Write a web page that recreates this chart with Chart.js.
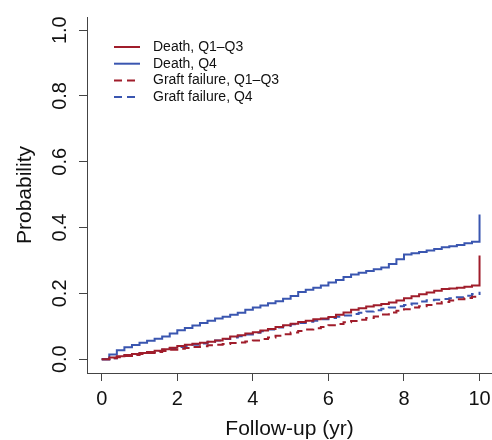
<!DOCTYPE html>
<html lang="en">
<head>
<meta charset="UTF-8">
<title>Cumulative incidence</title>
<style>
  body { margin: 0; background: #fff; }
</style>
</head>
<body>
<canvas id="chart" width="492" height="440"></canvas>
<script src="https://cdn.jsdelivr.net/npm/chart.js@4.4.1/dist/chart.umd.min.js"></script>
<script>
// follow-up times (yr), every 0.2 yr
var years = [0, 0.2, 0.4, 0.6, 0.8, 1, 1.2, 1.4, 1.6, 1.8, 2, 2.2, 2.4, 2.6, 2.8, 3, 3.2, 3.4, 3.6, 3.8,
             4, 4.2, 4.4, 4.6, 4.8, 5, 5.2, 5.4, 5.6, 5.8, 6, 6.2, 6.4, 6.6, 6.8, 7, 7.2, 7.4, 7.6, 7.8,
             8, 8.2, 8.4, 8.6, 8.8, 9, 9.2, 9.4, 9.6, 9.8, 10];

var deathQ13 = [0, 0.005, 0.009, 0.013, 0.016, 0.019, 0.022, 0.026, 0.030, 0.035,
                0.040, 0.044, 0.047, 0.050, 0.053, 0.057, 0.062, 0.069, 0.073, 0.078,
                0.082, 0.087, 0.092, 0.098, 0.103, 0.108, 0.113, 0.117, 0.121, 0.124,
                0.128, 0.135, 0.142, 0.150, 0.155, 0.160, 0.164, 0.168, 0.172, 0.178,
                0.185, 0.191, 0.197, 0.203, 0.208, 0.213, 0.215, 0.217, 0.220, 0.224, 0.230];
var deathQ4 = [0, 0.014, 0.027, 0.036, 0.043, 0.050, 0.056, 0.062, 0.069, 0.078,
               0.088, 0.095, 0.102, 0.110, 0.117, 0.124, 0.129, 0.135, 0.141, 0.150,
               0.157, 0.163, 0.170, 0.176, 0.184, 0.192, 0.204, 0.211, 0.217, 0.224,
               0.233, 0.241, 0.250, 0.257, 0.263, 0.268, 0.273, 0.279, 0.289, 0.304,
               0.318, 0.322, 0.326, 0.330, 0.335, 0.340, 0.343, 0.347, 0.352, 0.357, 0.363];
var graftQ13 = [0, 0.003, 0.006, 0.010, 0.013, 0.016, 0.019, 0.022, 0.025, 0.029,
                0.032, 0.034, 0.037, 0.039, 0.042, 0.044, 0.046, 0.049, 0.051, 0.054,
                0.057, 0.061, 0.066, 0.071, 0.076, 0.081, 0.086, 0.090, 0.094, 0.098,
                0.103, 0.107, 0.112, 0.116, 0.120, 0.125, 0.130, 0.136, 0.142, 0.147,
                0.152, 0.157, 0.161, 0.165, 0.169, 0.174, 0.178, 0.182, 0.186, 0.190, 0.194];
var graftQ4 = [0, 0.003, 0.007, 0.011, 0.015, 0.018, 0.021, 0.025, 0.029, 0.034,
               0.037, 0.040, 0.044, 0.048, 0.053, 0.057, 0.061, 0.066, 0.070, 0.075,
               0.080, 0.085, 0.090, 0.096, 0.101, 0.106, 0.110, 0.114, 0.117, 0.121,
               0.125, 0.129, 0.133, 0.137, 0.141, 0.145, 0.149, 0.153, 0.157, 0.161,
               0.165, 0.169, 0.175, 0.179, 0.181, 0.183, 0.185, 0.188, 0.193, 0.198, 0.200];
// value drawn at the very end of follow-up (vertical jump at 10 yr)
var endValues = [0.315, 0.44, 0.194, 0.205];

var seriesNames = ["Death, Q1\u2013Q3", "Death, Q4", "Graft failure, Q1\u2013Q3", "Graft failure, Q4"];
var xTicks = [0, 2, 4, 6, 8, 10];
var yTicks = [0, 0.2, 0.4, 0.6, 0.8, 1.0];

var red = "#a01d2b";
var blue = "#3a56b0";
var fontFamily = '"Liberation Sans", Arial, Helvetica, sans-serif';

function toPoints(vals, last) {
    var pts = [];
    for (var i = 0; i < years.length; i++) {
        pts.push({x: years[i], y: vals[i]});
    }
    pts.push({x: 10, y: last});
    return pts;
}

function makeSet(label, vals, last, color, dashed) {
    return {
        label: label,
        data: toPoints(vals, last),
        borderColor: color,
        backgroundColor: color,
        borderWidth: 2,
        borderDash: dashed ? [8, 5] : [],
        pointRadius: 0,
        stepped: true,
        fill: false
    };
}

// R-style legend drawn in the top-left of the plot
var legendPlugin = {
    id: "rlegend",
    afterDraw: function (chart) {
        var ctx = chart.ctx;
        ctx.save();
        ctx.font = "14px " + fontFamily;
        ctx.textBaseline = "middle";
        ctx.textAlign = "left";
        chart.data.datasets.forEach(function (ds, i) {
            var y = 47 + i * 16.7;
            ctx.strokeStyle = ds.borderColor;
            ctx.lineWidth = 2;
            ctx.setLineDash(ds.borderDash);
            ctx.beginPath();
            ctx.moveTo(114, y);
            ctx.lineTo(140, y);
            ctx.stroke();
            ctx.setLineDash([]);
            ctx.fillStyle = "#111";
            ctx.fillText(ds.label, 153, y);
        });
        ctx.restore();
    }
};

new Chart(document.getElementById("chart"), {
    type: "line",
    data: {
        datasets: [
            makeSet(seriesNames[0], deathQ13, endValues[0], red, false),
            makeSet(seriesNames[1], deathQ4, endValues[1], blue, false),
            makeSet(seriesNames[2], graftQ13, endValues[2], red, true),
            makeSet(seriesNames[3], graftQ4, endValues[3], blue, true)
        ]
    },
    options: {
        responsive: false,
        animation: false,
        layout: {padding: {top: 16, right: 0, left: 0, bottom: 0}},
        plugins: {
            legend: {display: false},
            tooltip: {enabled: false}
        },
        scales: {
            x: {
                type: "linear",
                min: -0.39,
                max: 10.33,
                afterBuildTicks: function (axis) {
                    axis.ticks = xTicks.map(function (v) { return {value: v}; });
                },
                afterFit: function (axis) {
                    axis.height = 67;
                    axis.paddingLeft = 0;
                    axis.paddingRight = 0;
                },
                border: {display: true, color: "#444", width: 1},
                grid: {display: true, drawOnChartArea: false, drawTicks: true, tickLength: 8, color: "#444"},
                ticks: {
                    color: "#111",
                    padding: 6,
                    maxRotation: 0,
                    font: {family: fontFamily, size: 20},
                    callback: function (v) { return v; }
                },
                title: {
                    display: true,
                    text: "Follow-up (yr)",
                    color: "#111",
                    padding: {top: 0, bottom: 0},
                    font: {family: fontFamily, size: 21, lineHeight: 1}
                }
            },
            y: {
                type: "linear",
                min: -0.042,
                max: 1.04,
                afterBuildTicks: function (axis) {
                    axis.ticks = yTicks.map(function (v) { return {value: v}; });
                },
                afterFit: function (axis) { axis.width = 87; },
                border: {display: true, color: "#444", width: 1},
                grid: {display: true, drawOnChartArea: false, drawTicks: true, tickLength: 8, color: "#444"},
                ticks: {
                    color: "#111",
                    padding: 5,
                    minRotation: 90,
                    maxRotation: 90,
                    crossAlign: "center",
                    font: {family: fontFamily, size: 20},
                    callback: function (v) { return v.toFixed(1); }
                },
                title: {
                    display: true,
                    text: "Probability",
                    color: "#111",
                    padding: {top: 15, bottom: 0},
                    font: {family: fontFamily, size: 21, lineHeight: 1}
                }
            }
        }
    },
    plugins: [legendPlugin]
});
</script>
</body>
</html>
